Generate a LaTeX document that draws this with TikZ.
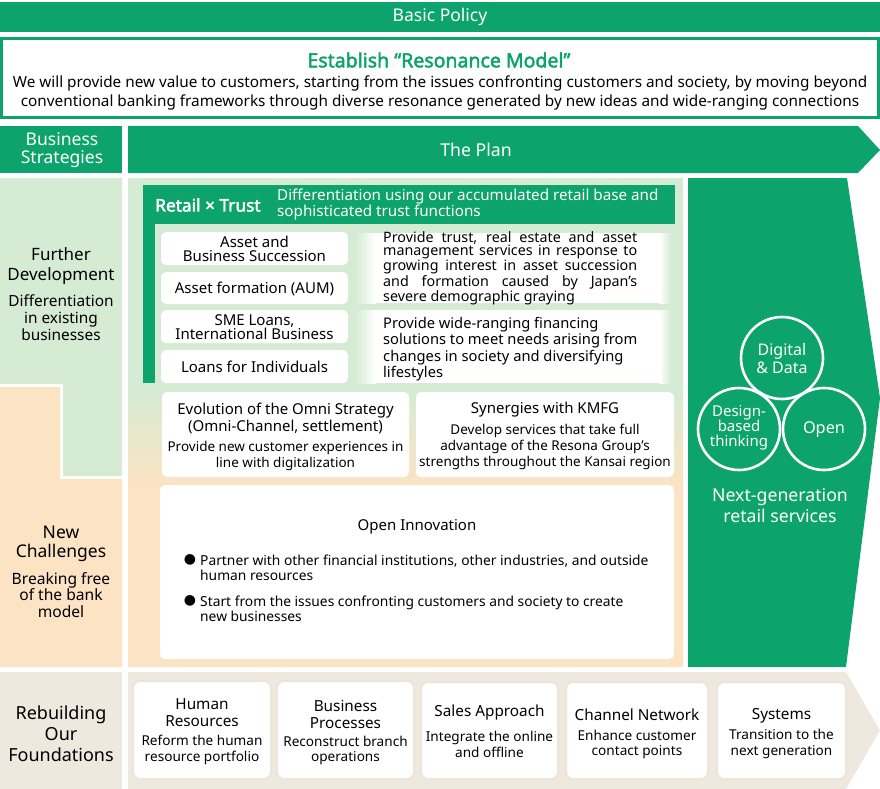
\documentclass[tikz,border=0pt]{standalone}
\usepackage{fontspec}
\setmainfont{Noto Sans}
\newfontfamily\dejavu{DejaVu Sans}
\newfontfamily\bnoto{Noto Sans}[FakeBold=2.2]
\definecolor{rgreen}{HTML}{0CA36C}
\definecolor{lgreen}{HTML}{D6EBD4}
\definecolor{peach}{HTML}{FCE3C3}
\definecolor{beige}{HTML}{EFE8DE}
\definecolor{beigeline}{HTML}{EDE5D9}
\newcommand{\fs}[2]{\fontsize{#1}{#2}\selectfont}
\begin{document}
\begin{tikzpicture}[x=1pt,y=-1pt,
  txt/.style={inner sep=0pt, align=center, text=black},
  wtxt/.style={inner sep=0pt, align=center, text=white},
  wbox/.style={fill=white, rounded corners=5pt},
  fbox/.style={fill=white, draw=beigeline, line width=2pt, rounded corners=7pt},
  ring/.style={draw=white, line width=2.6pt},
  big/.style={font=\fs{17}{20}},
  sub/.style={font=\fs{15.4}{17}},
  ttl/.style={font=\fs{15}{17}},
  bttl/.style={font=\fs{15.3}{17}},
  dsc/.style={font=\fs{13.6}{15.5}}]
\useasboundingbox (0,0) rectangle (880,789);
% ---------- top ----------
\fill[rgreen] (0,2) rectangle (880,32);
\node[wtxt, font=\fs{17.5}{20}] (basic) at (440,17) {Basic Policy};
\draw[rgreen, line width=3pt, fill=white] (1.5,38.5) rectangle (878.5,117.5);
\node[inner sep=0pt, text=rgreen, font=\bnoto\fs{19.5}{22}] (estab) at (439,60) {Establish “Resonance Model”};
\node[txt, font=\fs{15.3}{19}] (policy) at (440,93) {We will provide new value to customers, starting from the issues confronting customers and society, by moving beyond\\conventional banking frameworks through diverse resonance generated by new ideas and wide-ranging connections};
% ---------- strategy header ----------
\fill[rgreen] (0,126) rectangle (122,173);
\node[wtxt, font=\fs{17.5}{18}] (bstrat) at (62,150) {Business\\Strategies};
\fill[rgreen] (128,126) -- (858,126) -- (880,150) -- (858,173) -- (128,173) -- cycle;
\node[wtxt, font=\fs{17.7}{20}] (plan) at (476,150) {The Plan};
% ---------- left column ----------
\fill[lgreen] (0,178) -- (122,178) -- (122,476) -- (63,476) -- (63,384) -- (0,384) -- cycle;
\fill[peach] (0,387) -- (60,387) -- (60,479) -- (122,479) -- (122,667) -- (0,667) -- cycle;
\node[txt, big] (fdev) at (61,266) {Further\\Development};
\node[txt, sub] (fdevs) at (61,318) {Differentiation\\in existing\\businesses};
\node[txt, big, font=\fs{17.5}{19.5}] (newch) at (61,544) {New\\Challenges};
\node[txt, sub, font=\fs{15.6}{16.5}] (newchs) at (61,595) {Breaking free\\of the bank\\model};
% ---------- main area ----------
\fill[lgreen] (128,178) rectangle (683,390);
\shade[top color=lgreen, bottom color=peach] (128,389.5) rectangle (683,486);
\fill[peach] (128,485.5) rectangle (683,667);
% retail x trust frame
\fill[rgreen] (143,185) rectangle (675,224);
\fill[rgreen] (143,223) rectangle (155,383);
\node[inner sep=0pt, text=white, font=\bnoto\fs{17.3}{20}, anchor=west] (retail) at (155,205) {Retail × Trust};
\node[inner sep=0pt, text=white, font=\fs{15.2}{15}, align=left, anchor=west] (retaild) at (277,204.5) {Differentiation using our accumulated retail base and\\sophisticated trust functions};
\path[wbox] (161,232) rectangle (348,265);
\path[wbox] (161,272) rectangle (348,304);
\path[wbox] (161,310) rectangle (348,343);
\path[wbox] (161,350) rectangle (348,383);
\node[txt, ttl, font=\fs{15}{14}] (asset) at (254.5,249) {Asset and\\Business Succession};
\node[txt, ttl] (aum) at (254.5,289) {Asset formation (AUM)};
\node[txt, ttl, font=\fs{15}{13.5}] (sme) at (254.5,327) {SME Loans,\\International Business};
\node[txt, ttl] (loans) at (254.5,367) {Loans for Individuals};
% description panels with soft edges
\foreach \ya/\yb in {233/303, 310/383}{
  \fill[white] (375,\ya) rectangle (660,\yb);
  \shade[left color=lgreen, right color=white] (355,\ya) rectangle (375.5,\yb);
  \shade[left color=white, right color=lgreen] (659.5,\ya) rectangle (671,\yb);
}
\node[inner sep=0pt, text=black, font=\fs{14.3}{12.9}, text width=254pt, align=justify, anchor=west] (desc1) at (383,268.5) {Provide trust, real estate and asset\linebreak management services in response to\linebreak growing interest in asset succession\linebreak and formation caused by Japan’s\linebreak severe demographic graying};
\node[inner sep=0pt, text=black, font=\fs{14.7}{16.3}, align=left, anchor=west] (desc2) at (383,349) {Provide wide-ranging financing\\solutions to meet needs arising from\\changes in society and diversifying\\lifestyles};
% omni / synergies
\path[wbox] (162,392) rectangle (409,477);
\path[wbox] (416,392) rectangle (674,477);
\node[txt, ttl] (omni) at (285.5,418.5) {Evolution of the Omni Strategy\\(Omni-Channel, settlement)};
\node[txt, dsc, font=\fs{13.5}{15.5}] (omnid) at (285.5,456) {Provide new customer experiences in\\line with digitalization};
\node[txt, ttl] (syn) at (545,410) {Synergies with KMFG};
\node[txt, dsc, font=\fs{13.5}{16}] (synd) at (545,446.5) {Develop services that take full\\advantage of the Resona Group’s\\strengths throughout the Kansai region};
% open innovation
\path[wbox] (160,485) rectangle (674,659);
\node[txt, ttl] (openi) at (417,527) {Open Innovation};
\node[inner sep=0pt, font=\dejavu\fs{14}{15}] (b1) at (190,560) {●};
\node[inner sep=0pt, font=\dejavu\fs{14}{15}] (b2) at (190,601) {●};
\node[inner sep=0pt, align=left, anchor=west, font=\fs{13.8}{15.5}] (oi1) at (200,568) {Partner with other financial institutions, other industries, and outside\\human resources};
\node[inner sep=0pt, align=left, anchor=west, font=\fs{13.8}{15.5}] (oi2) at (200,609) {Start from the issues confronting customers and society to create\\new businesses};
% ---------- right green panel ----------
\fill[rgreen] (688,178) -- (847,178) -- (880,398) -- (846,667) -- (688,667) -- cycle;
\draw[ring] (782,358) circle (41);
\draw[ring] (739,429) circle (41);
\draw[ring] (824,429) circle (41);
\node[wtxt, font=\fs{16}{18}] (digital) at (782,358) {Digital\\\& Data};
\node[wtxt, font=\fs{15}{15}] (design) at (739,428) {Design-\\based\\thinking};
\node[wtxt, font=\fs{16.3}{18}] (open) at (824,430) {Open};
\node[wtxt, font=\fs{17.7}{21}] (nextgen) at (780,506) {Next-generation\\retail services};
% ---------- foundations ----------
\fill[beige] (0,672) rectangle (122,789);
\node[txt, font=\fs{18}{21}] (rebuild) at (61,734) {Rebuilding\\Our\\Foundations};
\shade[left color=beige, middle color=white, right color=beige] (128,672) -- (846,672) -- (880,730.5) -- (846,789) -- (128,789) -- cycle;
\path[fbox] (133,681) rectangle (271,779);
\path[fbox] (277,681) rectangle (414,779);
\path[fbox] (421,682) rectangle (558,779);
\path[fbox] (566,682) rectangle (708,779);
\path[fbox] (717,682) rectangle (846,779);
\node[txt, bttl] (hr) at (202,713) {Human\\Resources};
\node[txt, dsc] (hrd) at (202,750) {Reform the human\\resource portfolio};
\node[txt, bttl] (bp) at (345.5,714.5) {Business\\Processes};
\node[txt, dsc] (bpd) at (345.5,750.5) {Reconstruct branch\\operations};
\node[txt, bttl] (sa) at (489.5,713) {Sales Approach};
\node[txt, dsc] (sad) at (489.5,744.5) {Integrate the online\\and offline};
\node[txt, bttl] (cn) at (637,715) {Channel Network};
\node[txt, dsc] (cnd) at (637,744.5) {Enhance customer\\contact points};
\node[txt, bttl] (sys) at (781.5,716) {Systems};
\node[txt, dsc] (sysd) at (781.5,744) {Transition to the\\next generation};
\end{tikzpicture}
\end{document}
